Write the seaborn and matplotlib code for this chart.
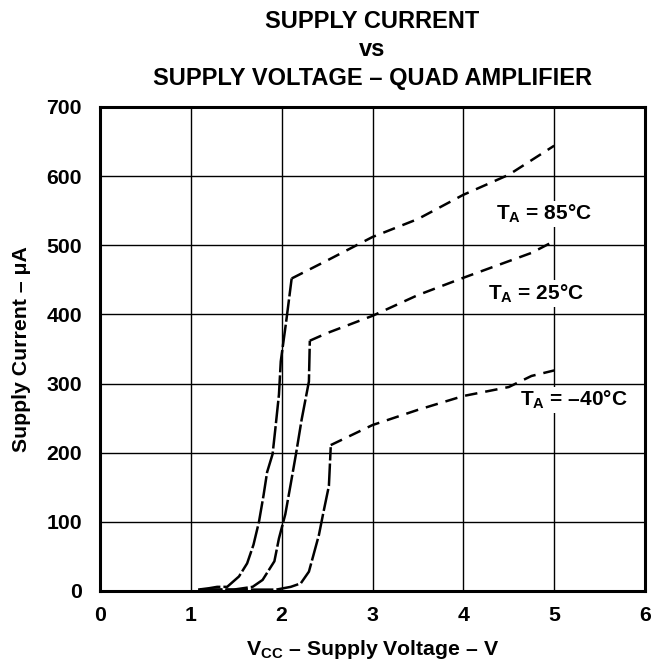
import numpy as np
import pandas as pd
import matplotlib
matplotlib.use("Agg")
import matplotlib.pyplot as plt
import seaborn as sns

# curve data (V, uA)
v85_rise = [1.08, 1.20, 1.29, 1.40, 1.53, 1.62, 1.69, 1.75, 1.80, 1.84, 1.90, 1.93, 1.97, 1.99, 2.05, 2.11]
i85_rise = [2, 4, 6, 6, 21, 40, 67, 100, 138, 172, 198, 234, 284, 332, 390, 452]
v85_flat = [2.11, 2.5, 3.0, 3.5, 4.0, 4.5, 5.0]
i85_flat = [452, 478, 512, 538, 573, 602, 644]

v25_rise = [1.10, 1.47, 1.68, 1.79, 1.92, 1.97, 2.04, 2.10, 2.16, 2.22, 2.30, 2.31]
i25_rise = [2, 2, 6, 16, 43, 76, 111, 155, 200, 248, 303, 362]
v25_flat = [2.31, 2.5, 3.0, 3.5, 4.0, 4.5, 4.75, 5.0]
i25_flat = [362, 373, 398, 428, 453, 477, 489, 506]

vm40_rise = [1.10, 1.94, 2.10, 2.21, 2.30, 2.35, 2.41, 2.46, 2.52, 2.54]
im40_rise = [2, 2, 6, 11, 28, 52, 81, 114, 152, 208]
vm40_flat = [2.54, 3.0, 3.5, 4.0, 4.5, 4.75, 5.0]
im40_flat = [211, 240, 262, 282, 295, 311, 319]

labels = ["T$_\\mathbf{A}$ = 85\u00b0C", "T$_\\mathbf{A}$ = 25\u00b0C", "T$_\\mathbf{A}$ = \u201340\u00b0C"]
label_pos = [(4.89, 545), (4.80, 430), (5.22, 276)]

sns.set_style("white")
plt.rcParams['font.family'] = ['Liberation Sans', 'DejaVu Sans']
plt.rcParams['font.weight'] = 'bold'
plt.rcParams['text.color'] = 'black'
plt.rcParams['axes.labelcolor'] = 'black'
plt.rcParams['xtick.color'] = 'black'
plt.rcParams['ytick.color'] = 'black'
plt.rcParams['mathtext.fontset'] = 'custom'
plt.rcParams['mathtext.rm'] = 'Liberation Sans:bold'
plt.rcParams['mathtext.bf'] = 'Liberation Sans:bold'
plt.rcParams['mathtext.it'] = 'Liberation Sans:bold'

fig = plt.figure(figsize=(6.52, 6.64), dpi=100)
ax = fig.add_axes([100 / 652, 1 - 591 / 664, 545 / 652, 484 / 664])

curves = [(v85_rise, i85_rise, v85_flat, i85_flat),
          (v25_rise, i25_rise, v25_flat, i25_flat),
          (vm40_rise, im40_rise, vm40_flat, im40_flat)]
for vr, ir, vf, iflat in curves:
    rise = pd.DataFrame({'V': vr, 'I': ir})
    flat = pd.DataFrame({'V': vf, 'I': iflat})
    sns.lineplot(data=rise, x='V', y='I', ax=ax, color='black', lw=1.8,
                 sort=False, estimator=None)
    ax.lines[-1].set_dashes((9, 1.2))
    sns.lineplot(data=flat, x='V', y='I', ax=ax, color='black', lw=1.8,
                 sort=False, estimator=None)
    ax.lines[-1].set_dashes((5, 3.2))

for txt, (x, y) in zip(labels, label_pos):
    ax.text(x, y, txt, ha='center', va='center', fontsize=15, fontweight='bold',
            bbox=dict(facecolor='white', edgecolor='none', pad=1.5))

ax.set_xlim(0, 6)
ax.set_ylim(0, 700)
ax.set_xticks(range(0, 7))
ax.set_yticks(range(0, 701, 100))
ax.grid(True, color='black', lw=1.0)
ax.set_axisbelow(True)
for s in ax.spines.values():
    s.set_color('black')
    s.set_linewidth(2.2)
ax.tick_params(axis='y', length=3, width=1, pad=10, labelsize=15.3)
ax.tick_params(axis='x', length=0, pad=11, labelsize=15.3)
for lab in ax.get_xticklabels() + ax.get_yticklabels():
    lab.set_fontweight('bold')

ax.set_xlabel("V$_\\mathbf{CC}$ \u2013 Supply Voltage \u2013 V", fontsize=15.3, fontweight='bold', labelpad=9)
ax.set_ylabel("Supply Current \u2013 \u03bcA", fontsize=15.3, fontweight='bold', labelpad=11)

cx = (100 + 645) / 2 / 652
fig.text(cx, 1 - 21 / 664, "SUPPLY CURRENT", ha='center', va='center', fontsize=17, fontweight='bold')
fig.text(cx, 1 - 49 / 664, "vs", ha='center', va='center', fontsize=17, fontweight='bold')
fig.text(cx, 1 - 78 / 664, "SUPPLY VOLTAGE \u2013 QUAD AMPLIFIER", ha='center', va='center', fontsize=17, fontweight='bold')

fig.savefig('out.png', dpi=100)
